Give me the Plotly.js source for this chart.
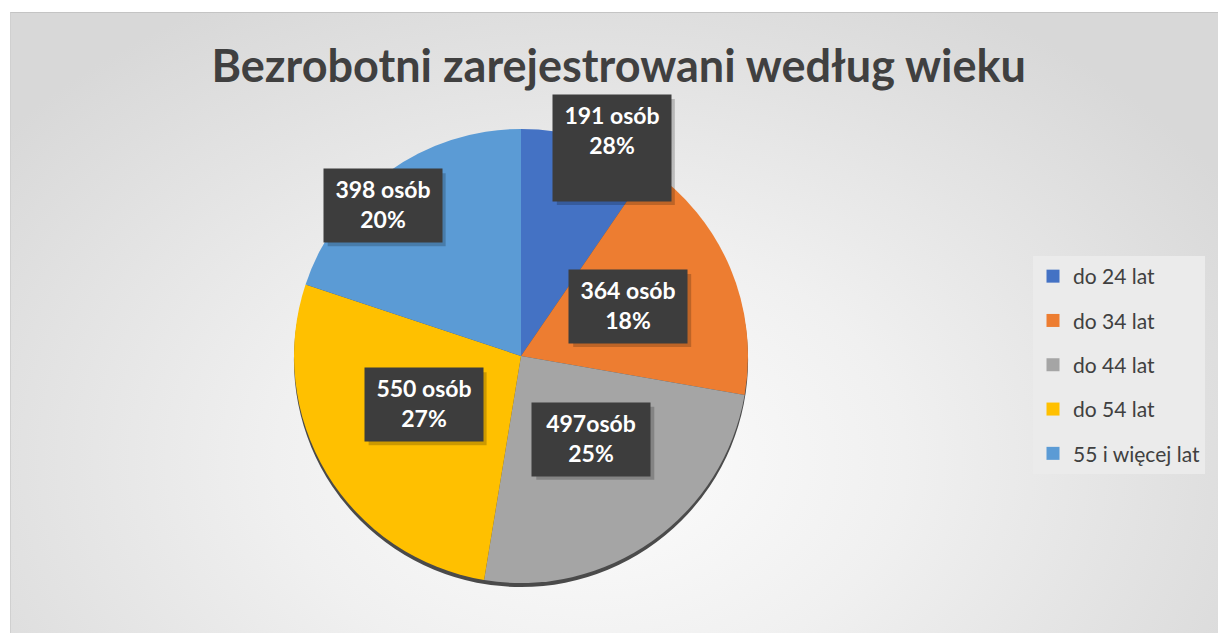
<!DOCTYPE html>
<html>
<head>
<meta charset="utf-8">
<script src="https://cdn.plot.ly/plotly-3.0.1.min.js"></script>
<style>
  body { margin: 0; background: #fff; }
  #panel {
    position: absolute; left: 10px; top: 12px; width: 1208px; height: 621px;
    border-top: 1px solid #c4c4c4; border-left: 1px solid #d0d0d0;
    background: radial-gradient(ellipse 62% 85% at 48% 72%, #fdfdfd 0%, #f0f0f0 42%, #d8d8d8 100%);
  }
  #chart { position: absolute; left: 0; top: 0; width: 1218px; height: 633px; }
</style>
</head>
<body>
<div id="panel"></div>
<div id="chart"></div>
<script>
// values (label percentages are the ones printed on it)
var ageGroups = ['do 24 lat', 'do 34 lat', 'do 44 lat', 'do 54 lat', '55 i więcej lat'];
var counts = [191, 364, 497, 550, 398];
var countLabels = ['191 osób', '364 osób', '497osób', '550 osób', '398 osób'];
var pctLabels = ['28%', '18%', '25%', '27%', '20%'];

var colors = ['#4472C4', '#ED7D31', '#A5A5A5', '#FFC000', '#5B9BD5'];

// pie geometry in pixels
var W = 1218, H = 633;
var cx = 521, cy = 356, R = 227;
var px = x => x / W;
var py = y => 1 - y / H;

// where each label box sits: fraction of radius and angle nudge from slice middle
var labelRadius = [1.0, 0.52, 0.48, 0.48, 0.9];
var labelNudge = [6.4, -1.9, -4.8, 4.5, -6.8];
var boxW = 118;
var boxHeights = [106, 73, 73, 73, 73];
var pad = 6;

var shadow = {
    type: 'pie',
    values: [1],
    marker: {colors: ['rgba(55,55,55,0.9)'], line: {width: 0}},
    textinfo: 'none',
    hoverinfo: 'skip',
    showlegend: false,
    sort: false,
    domain: {x: [px(cx - R), px(cx + R)], y: [py(cy + R + 4), py(cy - R + 4)]}
};

var pie = {
    type: 'pie',
    labels: ageGroups,
    values: counts,
    marker: {colors: colors, line: {width: 0}},
    sort: false,
    direction: 'clockwise',
    rotation: 0,
    textinfo: 'none',
    showlegend: false,
    domain: {x: [px(cx - R), px(cx + R)], y: [py(cy + R), py(cy - R)]}
};

// legend entries (one group each so the gap between them can be set)
var legendItems = ageGroups.map((g, i) => ({
    type: 'scatter',
    x: [null], y: [null],
    mode: 'markers',
    name: g,
    legendgroup: g,
    marker: {symbol: 'square', size: 13, color: colors[i]},
    hoverinfo: 'skip'
}));

// label boxes placed from the slice angles
var total = counts.reduce((a, b) => a + b, 0);
var annotations = [];
var shapes = [];
var cum = 0;
counts.forEach(function(v, i) {
    var mid = (cum + v / 2) / total * 360 + labelNudge[i];
    cum += v;
    var r = R * labelRadius[i];
    var ax = cx + r * Math.sin(mid * Math.PI / 180);
    var ay = cy - r * Math.cos(mid * Math.PI / 180);
    var bh = boxHeights[i];
    // soft drop shadow under the box
    shapes.push({
        type: 'rect', xref: 'paper', yref: 'paper', layer: 'above',
        x0: px(ax - boxW / 2 + 4), x1: px(ax + boxW / 2 + 4),
        y0: py(ay + bh / 2 + 4), y1: py(ay - bh / 2 + 4),
        fillcolor: 'rgba(0,0,0,0.2)', line: {width: 0}
    });
    annotations.push({
        x: px(ax), y: py(ay), xref: 'paper', yref: 'paper',
        xanchor: 'center', yanchor: 'middle',
        showarrow: false, width: boxW - 2 * pad, height: bh - 2 * pad,
        valign: 'top', borderpad: pad, bgcolor: '#3d3d3d',
        text: countLabels[i] + '<br>' + pctLabels[i],
        font: {family: 'Lato', size: 23, weight: 'bold', color: '#ffffff'}
    });
});

var layout = {
    width: W, height: H,
    margin: {l: 0, r: 0, t: 0, b: 0},
    paper_bgcolor: 'rgba(0,0,0,0)',
    plot_bgcolor: 'rgba(0,0,0,0)',
    xaxis: {visible: false},
    yaxis: {visible: false},
    title: {
        text: 'Bezrobotni zarejestrowani według wieku',
        font: {family: 'Lato', size: 45, weight: 'bold', color: '#404040'},
        x: 0.508, xanchor: 'center', y: py(66), yref: 'paper', yanchor: 'middle'
    },
    legend: {
        x: px(1033), xanchor: 'left', y: py(256), yanchor: 'top',
        bgcolor: '#ebebeb',
        font: {family: 'Lato', size: 21, color: '#404040'},
        tracegroupgap: 14,
        itemwidth: 30
    },
    shapes: shapes,
    annotations: annotations
};

Plotly.newPlot('chart', [shadow, pie].concat(legendItems), layout, {displayModeBar: false});
</script>
</body>
</html>
